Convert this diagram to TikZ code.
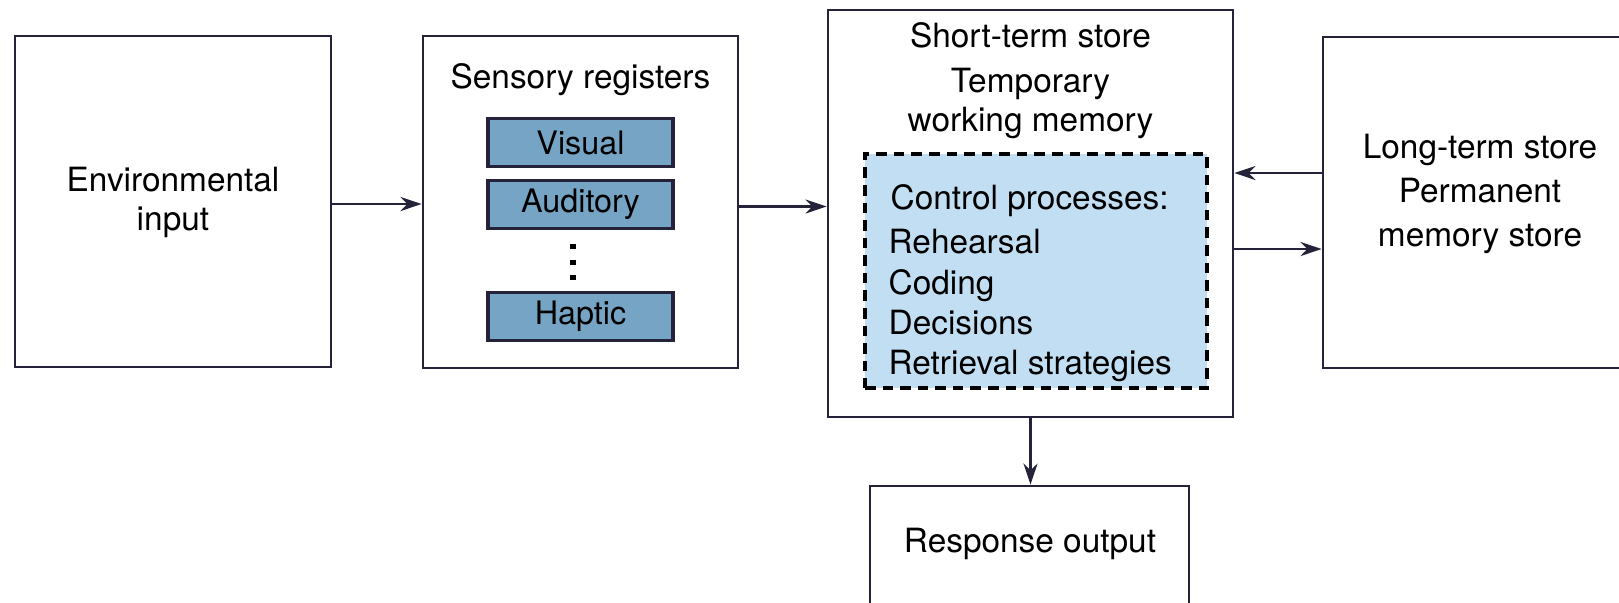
\documentclass[tikz,border=0pt]{standalone}
\usepackage{fontspec}
\setmainfont{TeX Gyre Heros}
\usepackage{tikz}
\usetikzlibrary{arrows.meta}
\usetikzlibrary{positioning}
\definecolor{regblue}{HTML}{76A4C4}
\definecolor{ctrlblue}{HTML}{C2DEF3}
\definecolor{inkline}{HTML}{25233A}
\tikzstyle{stage}=[draw=inkline, line width=0.8pt, fill=white, inner sep=0pt]
\tikzstyle{register}=[draw=inkline, line width=0.9pt, fill=regblue, inner sep=0pt,
    minimum width=1.85cm, minimum height=0.48cm, font=\fontsize{9.2}{11}\selectfont]
\tikzstyle{ctrlbox}=[draw=black, line width=1.3pt, fill=ctrlblue, inner sep=0pt,
    dash pattern=on 3pt off 2pt]
\tikzstyle{label}=[align=center, inner sep=0pt, font=\fontsize{9.5}{11}\selectfont]
\tikzstyle{flow}=[draw=inkline, line width=0.8pt, -{Stealth[length=2.1mm,width=1.4mm]}]

\begin{document}
\begin{tikzpicture}
              \useasboundingbox (0,0) rectangle (16.19,-6.02);
              % boxes
              \node[stage, minimum width=3.16cm, minimum height=3.31cm] (env) at (1.73,-2.015){};
              \node[label] (envtext) at (1.73,-2.025){Environmental\\input};
              \node[stage, minimum width=3.15cm, minimum height=3.32cm] (sreg) at (5.805,-2.02){};
              \node[label] (sregtext) at (5.805,-0.80){Sensory registers};
              \node[register] (visual) at (5.805,-1.425){Visual};
              \node[register] (audit) at (5.805,-2.045){Auditory};
              \node[register] (haptic) at (5.805,-3.165){Haptic};
              \draw[line width=1.6pt, dash pattern=on 1.5pt off 2.9pt, shorten <=1.4mm, shorten >=1mm]
                  ([xshift=-0.075cm]audit.south) -- ([xshift=-0.075cm]haptic.north);
              \node[stage, minimum width=4.05cm, minimum height=4.07cm] (sts) at (10.305,-2.135){};
              \node[label] (ststitle) at (10.305,-0.35){Short-term store};
              \node[label] (ststext) at (10.305,-1.035){Temporary\\working memory};
              \node[ctrlbox, minimum width=3.42cm, minimum height=2.34cm] (ctrl) at (10.36,-2.71){};
              \node[label, align=left, anchor=north west] (ctrltext) at (8.88,-1.84)
                  {\hspace*{0.2mm}Control processes:\\[1.6pt]Rehearsal\\[0.4pt]Coding\\[0.4pt]Decisions\\[0.4pt]Retrieval strategies};
              \node[stage, minimum width=3.27cm, minimum height=3.31cm] (lts) at (14.865,-2.025){};
              \node[label, font=\fontsize{9.5}{12.4}\selectfont] (ltstext) at (14.80,-1.94){Long-term store\\Permanent\\memory store};
              \node[stage, minimum width=3.19cm, minimum height=1.54cm] (resp) at (10.295,-5.63){};
              \node[label] (resptext) at (10.30,-5.44){Response output};
              % connectors
              \coordinate (envout) at ([yshift=-0.025cm]env.east);
              \draw[flow] (envout) -- (envout -| sreg.west);
              \coordinate (sregout) at ([yshift=-0.045cm]sreg.east);
              \draw[flow] (sregout) -- (sregout -| sts.west);
              \coordinate (ltsback) at ([yshift=0.295cm]lts.west);
              \draw[flow] (ltsback) -- (ltsback -| sts.east);
              \coordinate (stsout) at ([yshift=-0.355cm]sts.east);
              \draw[flow] (stsout) -- (stsout -| lts.west);
              \draw[flow] (sts.south) -- (sts.south |- resp.north);
            \end{tikzpicture}
\end{document}
